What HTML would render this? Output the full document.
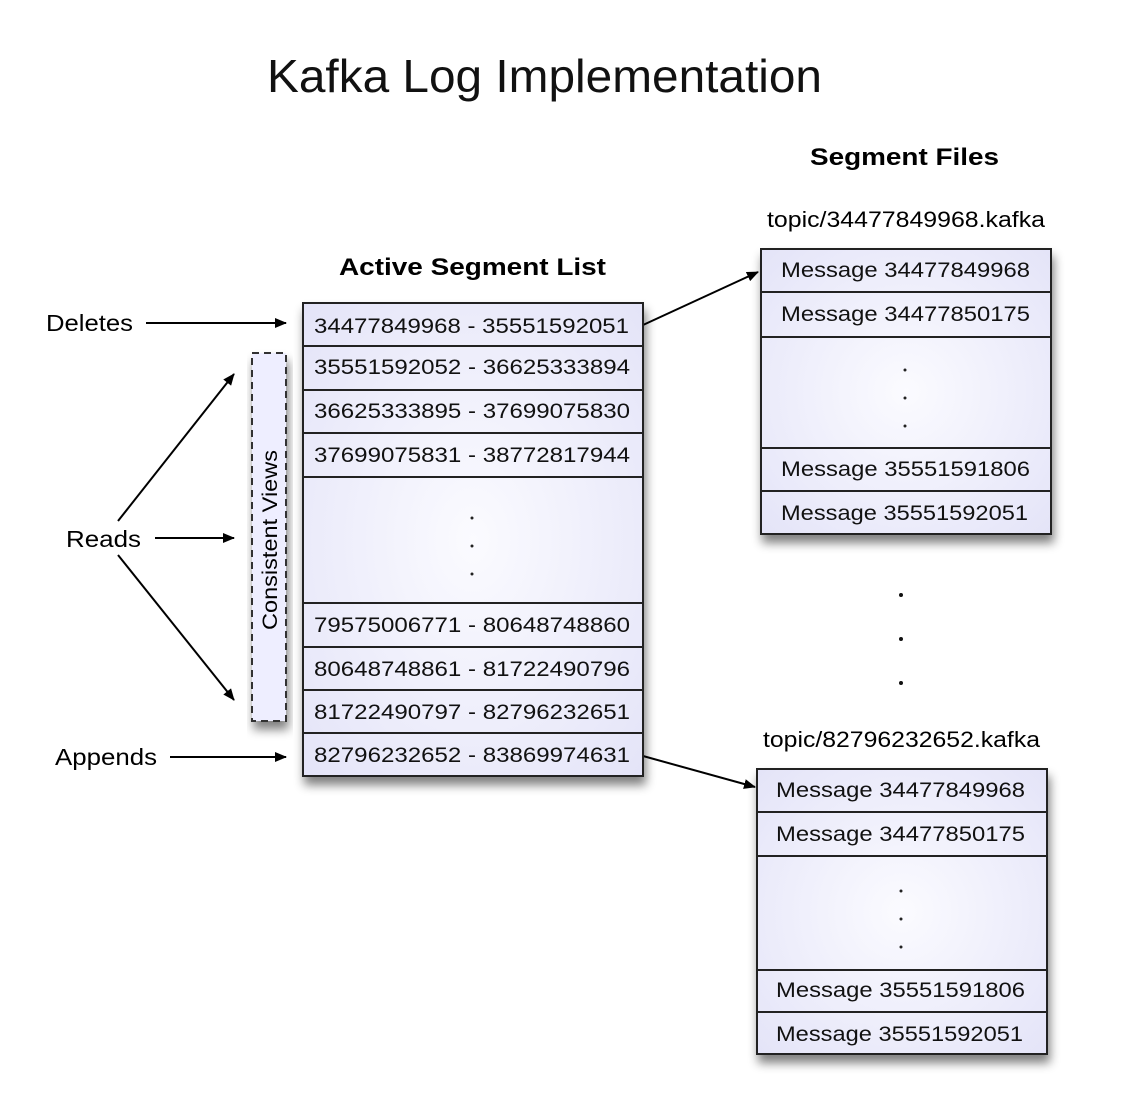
<!DOCTYPE html>
<html><head><meta charset="utf-8"><style>
html,body{margin:0;padding:0;background:#fff;}
svg{display:block;font-family:"Liberation Sans",Arial,sans-serif;}
</style></head><body>
<svg width="1124" height="1108" viewBox="0 0 1124 1108" xmlns="http://www.w3.org/2000/svg">
<defs>
<filter id="sh" x="-20%" y="-20%" width="140%" height="140%">
<feGaussianBlur in="SourceAlpha" stdDeviation="5"/>
<feOffset dx="2" dy="8"/>
<feComponentTransfer><feFuncA type="linear" slope="0.5"/></feComponentTransfer>
<feMerge><feMergeNode/><feMergeNode in="SourceGraphic"/></feMerge>
</filter>
<radialGradient id="g" cx="50%" cy="50%" r="70%">
<stop offset="0" stop-color="#fbfbff"/><stop offset="1" stop-color="#e4e4f8"/>
</radialGradient>
<marker id="ah" markerWidth="12" markerHeight="10" refX="11" refY="5" orient="auto" markerUnits="userSpaceOnUse">
<path d="M0,0 L12,5 L0,10 Z" fill="#000"/>
</marker>
</defs>

<text x="267" y="92" font-size="46" textLength="555" lengthAdjust="spacingAndGlyphs" fill="#111">Kafka Log Implementation</text>
<text x="810" y="165" font-size="24" font-weight="bold" textLength="189" lengthAdjust="spacingAndGlyphs">Segment Files</text>
<text x="767" y="227" font-size="22" textLength="278" lengthAdjust="spacingAndGlyphs">topic/34477849968.kafka</text>
<text x="339" y="275" font-size="24" font-weight="bold" textLength="267" lengthAdjust="spacingAndGlyphs">Active Segment List</text>
<text x="763" y="747" font-size="22" textLength="277" lengthAdjust="spacingAndGlyphs">topic/82796232652.kafka</text>

<!-- left labels -->
<text x="46" y="331" font-size="23" textLength="87" lengthAdjust="spacingAndGlyphs">Deletes</text>
<text x="66" y="547" font-size="23" textLength="75" lengthAdjust="spacingAndGlyphs">Reads</text>
<text x="55" y="765" font-size="23" textLength="102" lengthAdjust="spacingAndGlyphs">Appends</text>
<g stroke="#000" stroke-width="2" fill="none" marker-end="url(#ah)">
<line x1="146" y1="323" x2="286" y2="323"/>
<line x1="170" y1="757" x2="286" y2="757"/>
<line x1="155" y1="538" x2="234" y2="538"/>
<line x1="118" y1="521" x2="234" y2="374"/>
<line x1="118" y1="555" x2="234" y2="700"/>
<line x1="643" y1="325" x2="758" y2="272"/>
<line x1="643" y1="756" x2="755" y2="787"/>
</g>

<!-- consistent views -->
<rect x="252" y="353" width="34" height="368" fill="#eeeeff" stroke="#333" stroke-width="2" stroke-dasharray="7,5" filter="url(#sh)"/>
<text transform="translate(277,540) rotate(-90)" text-anchor="middle" font-size="21" textLength="180" lengthAdjust="spacingAndGlyphs">Consistent Views</text>

<!-- active list -->
<g filter="url(#sh)"><rect x="303" y="303" width="340" height="473" fill="url(#g)" stroke="#222" stroke-width="2"/></g>
<g stroke="#222" stroke-width="2">
<line x1="303" y1="346" x2="643" y2="346"/><line x1="303" y1="390" x2="643" y2="390"/>
<line x1="303" y1="433" x2="643" y2="433"/><line x1="303" y1="477" x2="643" y2="477"/>
<line x1="303" y1="603" x2="643" y2="603"/><line x1="303" y1="647" x2="643" y2="647"/>
<line x1="303" y1="690" x2="643" y2="690"/><line x1="303" y1="733" x2="643" y2="733"/>
</g>
<g font-size="21" fill="#111">
<text x="314" y="333" textLength="315" lengthAdjust="spacingAndGlyphs">34477849968 - 35551592051</text>
<text x="314" y="374" textLength="316" lengthAdjust="spacingAndGlyphs">35551592052 - 36625333894</text>
<text x="314" y="418" textLength="316" lengthAdjust="spacingAndGlyphs">36625333895 - 37699075830</text>
<text x="314" y="462" textLength="316" lengthAdjust="spacingAndGlyphs">37699075831 - 38772817944</text>
<text x="314" y="632" textLength="316" lengthAdjust="spacingAndGlyphs">79575006771 - 80648748860</text>
<text x="314" y="676" textLength="316" lengthAdjust="spacingAndGlyphs">80648748861 - 81722490796</text>
<text x="314" y="719" textLength="316" lengthAdjust="spacingAndGlyphs">81722490797 - 82796232651</text>
<text x="314" y="762" textLength="316" lengthAdjust="spacingAndGlyphs">82796232652 - 83869974631</text>
</g>
<g fill="#222"><circle cx="472" cy="518" r="1.5"/><circle cx="472" cy="546" r="1.5"/><circle cx="472" cy="574" r="1.5"/></g>

<!-- segment file 1 -->
<g filter="url(#sh)"><rect x="761" y="249" width="290" height="285" fill="url(#g)" stroke="#222" stroke-width="2"/></g>
<g stroke="#222" stroke-width="2">
<line x1="761" y1="292" x2="1051" y2="292"/><line x1="761" y1="337" x2="1051" y2="337"/>
<line x1="761" y1="448" x2="1051" y2="448"/><line x1="761" y1="491" x2="1051" y2="491"/>
</g>
<g font-size="21" fill="#111">
<text x="781" y="277" textLength="249" lengthAdjust="spacingAndGlyphs">Message 34477849968</text>
<text x="781" y="321" textLength="249" lengthAdjust="spacingAndGlyphs">Message 34477850175</text>
<text x="781" y="476" textLength="249" lengthAdjust="spacingAndGlyphs">Message 35551591806</text>
<text x="781" y="520" textLength="247" lengthAdjust="spacingAndGlyphs">Message 35551592051</text>
</g>
<g fill="#222"><circle cx="905" cy="370" r="1.5"/><circle cx="905" cy="398" r="1.5"/><circle cx="905" cy="426" r="1.5"/></g>

<!-- middle dots -->
<g fill="#111"><circle cx="901" cy="595" r="2"/><circle cx="901" cy="639" r="2"/><circle cx="901" cy="683" r="2"/></g>

<!-- segment file 2 -->
<g filter="url(#sh)"><rect x="757" y="769" width="290" height="285" fill="url(#g)" stroke="#222" stroke-width="2"/></g>
<g stroke="#222" stroke-width="2">
<line x1="757" y1="812" x2="1047" y2="812"/><line x1="757" y1="856" x2="1047" y2="856"/>
<line x1="757" y1="970" x2="1047" y2="970"/><line x1="757" y1="1012" x2="1047" y2="1012"/>
</g>
<g font-size="21" fill="#111">
<text x="776" y="797" textLength="249" lengthAdjust="spacingAndGlyphs">Message 34477849968</text>
<text x="776" y="841" textLength="249" lengthAdjust="spacingAndGlyphs">Message 34477850175</text>
<text x="776" y="997" textLength="249" lengthAdjust="spacingAndGlyphs">Message 35551591806</text>
<text x="776" y="1041" textLength="247" lengthAdjust="spacingAndGlyphs">Message 35551592051</text>
</g>
<g fill="#222"><circle cx="901" cy="891" r="1.5"/><circle cx="901" cy="919" r="1.5"/><circle cx="901" cy="947" r="1.5"/></g>
</svg>
</body></html>
